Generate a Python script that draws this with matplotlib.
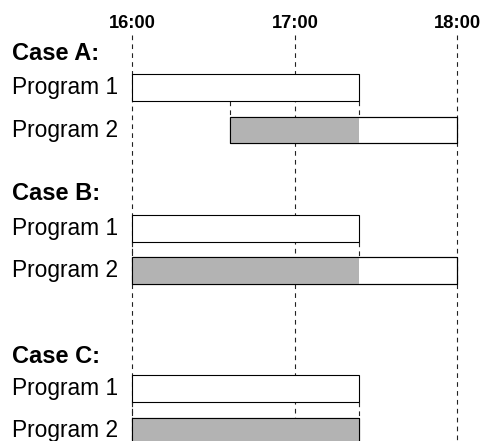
import matplotlib
matplotlib.use('Agg')
import matplotlib.pyplot as plt

plt.rcParams['font.family'] = ['Liberation Sans', 'DejaVu Sans']

# Data: schedule of two programs (hours of the day) for each case
cases = ['Case A:', 'Case B:', 'Case C:']
p1_start = [16.0, 16.0, 16.0]
p1_end = [17.4, 17.4, 17.4]
p2_start = [16.6, 16.0, 16.0]
p2_end = [18.0, 18.0, 17.4]
hour_ticks = [16, 17, 18]
hour_labels = ['16:00', '17:00', '18:00']
row_labels = ['Program 1', 'Program 2']

# Layout (vertical positions in pixel-like units, top = 0)
title_y = [51, 192, 354.5]
row1_y = [87.5, 228.5, 388.5]
row2_y = [130, 270.5, 431]
bar_h = 26.5

fig = plt.figure(figsize=(4.85, 4.41), dpi=100)
ax = fig.add_axes([0, 0, 1, 1])
px_per_h = 162.5
ax.set_xlim(16 - 132 / px_per_h, 18 + 28 / px_per_h)
ax.set_ylim(441, 0)
ax.axis('off')

# Hour grid lines
for h, lab in zip(hour_ticks, hour_labels):
    ax.plot([h, h], [35, 441], color='#222222', lw=0.8, dashes=(4.2, 3.8), zorder=1)
    ax.text(h + 0.005, 27.5, lab, ha='center', va='baseline', fontsize=13.2, fontweight='bold')

label_x = 16 - 120 / px_per_h
for i, case in enumerate(cases):
    ax.text(label_x, title_y[i] + 8.5, case, ha='left', va='baseline', fontsize=17, fontweight='bold')
    ax.text(label_x, row1_y[i] + 6.5, row_labels[0], ha='left', va='baseline', fontsize=16.4)
    ax.text(label_x, row2_y[i] + 6.5, row_labels[1], ha='left', va='baseline', fontsize=16.4)

    # Program 1
    ax.barh(row1_y[i], p1_end[i] - p1_start[i], left=p1_start[i], height=bar_h,
            color='white', edgecolor='black', lw=0.8, zorder=2)
    # Program 2: full run, then the waiting (overlap) part in grey
    ax.barh(row2_y[i], p2_end[i] - p2_start[i], left=p2_start[i], height=bar_h,
            color='white', edgecolor='black', lw=0.8, zorder=2)
    wait_end = min(p1_end[i], p2_end[i])
    ax.barh(row2_y[i], wait_end - p2_start[i], left=p2_start[i], height=bar_h,
            color='#b3b3b3', edgecolor='none', zorder=3)
    ax.barh(row2_y[i], p2_end[i] - p2_start[i], left=p2_start[i], height=bar_h,
            color='none', edgecolor='black', lw=0.8, zorder=4)

    # dashed connectors between the two bars
    y0 = row1_y[i] + bar_h / 2
    y1 = row2_y[i] - bar_h / 2
    for xc in (p2_start[i], p1_end[i]):
        ax.plot([xc, xc], [y0, y1], color='#222222', lw=0.8, dashes=(4.2, 3.8), zorder=1)

fig.savefig('out.png', dpi=100)
